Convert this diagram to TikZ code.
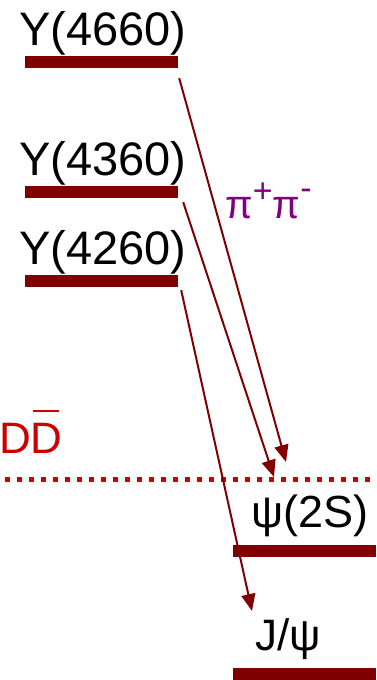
\documentclass[tikz,border=0pt]{standalone}
\usepackage{fontspec}
\setmainfont{Liberation Sans}
\usetikzlibrary{arrows.meta}
\definecolor{niveau}{HTML}{800000}
\definecolor{schwelle}{HTML}{CC0000}
\definecolor{pion}{HTML}{800080}
\tikzset{
  lvl/.style={fill=niveau,inner sep=0pt,minimum height=12pt},
  lbl/.style={anchor=base west,inner sep=0pt,font=\fontsize{47}{50}\selectfont},
  trans/.style={-{Triangle[length=17pt,width=14pt]},niveau,line width=2pt},
  thr/.style={schwelle,line width=5pt,dash pattern=on 5pt off 7pt},
}
\begin{document}
\begin{tikzpicture}[x=1pt,y=-1pt]
  \useasboundingbox (0,0) rectangle (376,680);
  % Y states
  \foreach \n/\y in {4660/62, 4360/192, 4260/281}{
    \node[lvl,minimum width=153pt] (y\n) at (101.5,\y) {};
    \node[lbl] (t\n) at (19,\y-17) {Y(\n)};}
  % charmonium
  \node[lvl,minimum width=143pt] (psi2s) at (304.5,550.5) {};
  \node[lbl,font=\fontsize{45}{48}\selectfont] (tpsi2s) at (251,527) {ψ(2S)};
  \node[lvl,minimum width=143pt] (jpsi) at (304.5,674) {};
  \node[lbl,font=\fontsize{44}{48}\selectfont] (tjpsi) at (255,650) {J/ψ};
  % threshold
  \draw[thr] (5,479) -- (376,479);
  \node[lbl,text=schwelle,font=\fontsize{44}{48}\selectfont] (tdd) at (-1,453)
    {D\rlap{\kern2pt\raisebox{41pt}{\rule{26pt}{2.5pt}}}D};
  % transitions
  \coordinate (e4660) at (286,462);
  \coordinate (e4360) at (274,477);
  \coordinate (e4260) at (252,611);
  \foreach \n/\dx/\dy in {4660/1/10, 4360/5/4, 4260/3/3}
    \draw[trans] ([shift={(\dx,\dy)}]y\n.south east) -- (e\n);
  \node[anchor=base west,inner sep=0pt,text=pion,font=\fontsize{40}{44}\selectfont] (pp) at (225,218)
    {π\raisebox{16pt}{\fontsize{34}{34}\selectfont+}π\raisebox{19pt}{\fontsize{34}{34}\selectfont-}};
\end{tikzpicture}
\end{document}
